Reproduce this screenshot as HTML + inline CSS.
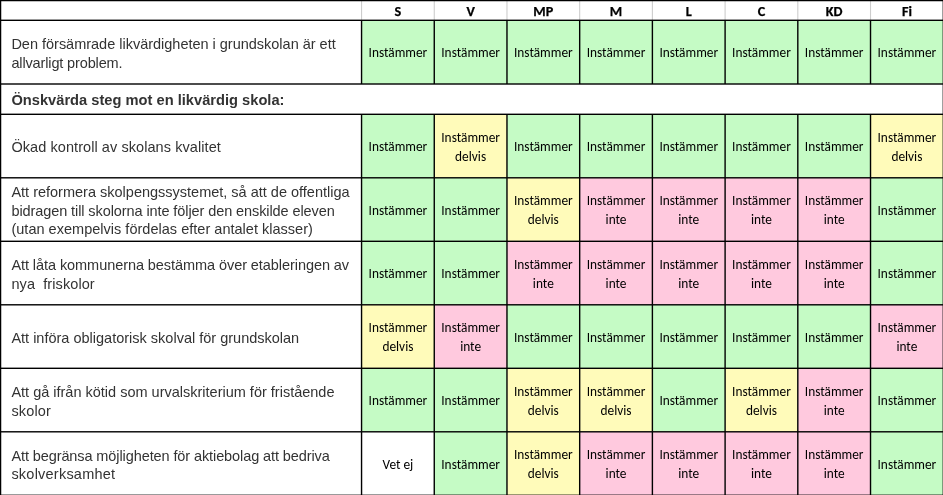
<!DOCTYPE html>
<html lang="sv"><head><meta charset="utf-8"><title>Likvärdig skola</title>
<style>
html,body{margin:0;padding:0;background:#fff}
svg{display:block}
.l{font-family:"Liberation Sans",Arial,Helvetica,sans-serif;font-size:14.5px;fill:#333}
.b{font-weight:bold;font-size:14.67px}
.c{font-family:Carlito,Calibri,"Liberation Sans",sans-serif;font-size:13.33px;fill:#000;text-anchor:middle}
.h{font-family:Carlito,Calibri,"Liberation Sans",sans-serif;font-size:14.2px;font-weight:bold;fill:#000;stroke:#000;stroke-width:.25px;text-anchor:middle}
</style></head><body>

<svg width="943" height="495" viewBox="0 0 943 495">
<rect width="943" height="495" fill="#fff"/>
<g>
<rect x="361.55" y="20.30" width="72.71" height="63.70" fill="#c5fbc5"/>
<rect x="434.26" y="20.30" width="72.71" height="63.70" fill="#c5fbc5"/>
<rect x="506.97" y="20.30" width="72.71" height="63.70" fill="#c5fbc5"/>
<rect x="579.68" y="20.30" width="72.71" height="63.70" fill="#c5fbc5"/>
<rect x="652.39" y="20.30" width="72.71" height="63.70" fill="#c5fbc5"/>
<rect x="725.10" y="20.30" width="72.71" height="63.70" fill="#c5fbc5"/>
<rect x="797.81" y="20.30" width="72.71" height="63.70" fill="#c5fbc5"/>
<rect x="870.52" y="20.30" width="72.71" height="63.70" fill="#c5fbc5"/>
<rect x="361.55" y="114.30" width="72.71" height="63.50" fill="#c5fbc5"/>
<rect x="434.26" y="114.30" width="72.71" height="63.50" fill="#fffbba"/>
<rect x="506.97" y="114.30" width="72.71" height="63.50" fill="#c5fbc5"/>
<rect x="579.68" y="114.30" width="72.71" height="63.50" fill="#c5fbc5"/>
<rect x="652.39" y="114.30" width="72.71" height="63.50" fill="#c5fbc5"/>
<rect x="725.10" y="114.30" width="72.71" height="63.50" fill="#c5fbc5"/>
<rect x="797.81" y="114.30" width="72.71" height="63.50" fill="#c5fbc5"/>
<rect x="870.52" y="114.30" width="72.71" height="63.50" fill="#fffbba"/>
<rect x="361.55" y="177.80" width="72.71" height="63.50" fill="#c5fbc5"/>
<rect x="434.26" y="177.80" width="72.71" height="63.50" fill="#c5fbc5"/>
<rect x="506.97" y="177.80" width="72.71" height="63.50" fill="#fffbba"/>
<rect x="579.68" y="177.80" width="72.71" height="63.50" fill="#ffc9de"/>
<rect x="652.39" y="177.80" width="72.71" height="63.50" fill="#ffc9de"/>
<rect x="725.10" y="177.80" width="72.71" height="63.50" fill="#ffc9de"/>
<rect x="797.81" y="177.80" width="72.71" height="63.50" fill="#ffc9de"/>
<rect x="870.52" y="177.80" width="72.71" height="63.50" fill="#c5fbc5"/>
<rect x="361.55" y="241.30" width="72.71" height="63.50" fill="#c5fbc5"/>
<rect x="434.26" y="241.30" width="72.71" height="63.50" fill="#c5fbc5"/>
<rect x="506.97" y="241.30" width="72.71" height="63.50" fill="#ffc9de"/>
<rect x="579.68" y="241.30" width="72.71" height="63.50" fill="#ffc9de"/>
<rect x="652.39" y="241.30" width="72.71" height="63.50" fill="#ffc9de"/>
<rect x="725.10" y="241.30" width="72.71" height="63.50" fill="#ffc9de"/>
<rect x="797.81" y="241.30" width="72.71" height="63.50" fill="#ffc9de"/>
<rect x="870.52" y="241.30" width="72.71" height="63.50" fill="#c5fbc5"/>
<rect x="361.55" y="304.80" width="72.71" height="63.50" fill="#fffbba"/>
<rect x="434.26" y="304.80" width="72.71" height="63.50" fill="#ffc9de"/>
<rect x="506.97" y="304.80" width="72.71" height="63.50" fill="#c5fbc5"/>
<rect x="579.68" y="304.80" width="72.71" height="63.50" fill="#c5fbc5"/>
<rect x="652.39" y="304.80" width="72.71" height="63.50" fill="#c5fbc5"/>
<rect x="725.10" y="304.80" width="72.71" height="63.50" fill="#c5fbc5"/>
<rect x="797.81" y="304.80" width="72.71" height="63.50" fill="#c5fbc5"/>
<rect x="870.52" y="304.80" width="72.71" height="63.50" fill="#ffc9de"/>
<rect x="361.55" y="368.30" width="72.71" height="63.50" fill="#c5fbc5"/>
<rect x="434.26" y="368.30" width="72.71" height="63.50" fill="#c5fbc5"/>
<rect x="506.97" y="368.30" width="72.71" height="63.50" fill="#fffbba"/>
<rect x="579.68" y="368.30" width="72.71" height="63.50" fill="#fffbba"/>
<rect x="652.39" y="368.30" width="72.71" height="63.50" fill="#c5fbc5"/>
<rect x="725.10" y="368.30" width="72.71" height="63.50" fill="#fffbba"/>
<rect x="797.81" y="368.30" width="72.71" height="63.50" fill="#ffc9de"/>
<rect x="870.52" y="368.30" width="72.71" height="63.50" fill="#c5fbc5"/>
<rect x="434.26" y="431.80" width="72.71" height="63.50" fill="#c5fbc5"/>
<rect x="506.97" y="431.80" width="72.71" height="63.50" fill="#fffbba"/>
<rect x="579.68" y="431.80" width="72.71" height="63.50" fill="#ffc9de"/>
<rect x="652.39" y="431.80" width="72.71" height="63.50" fill="#ffc9de"/>
<rect x="725.10" y="431.80" width="72.71" height="63.50" fill="#ffc9de"/>
<rect x="797.81" y="431.80" width="72.71" height="63.50" fill="#ffc9de"/>
<rect x="870.52" y="431.80" width="72.71" height="63.50" fill="#c5fbc5"/>
</g>
<g fill="#cdcdcd">
<rect x="361.00" y="1" width="1.1" height="19.30"/>
<rect x="433.71" y="1" width="1.1" height="19.30"/>
<rect x="506.42" y="1" width="1.1" height="19.30"/>
<rect x="579.13" y="1" width="1.1" height="19.30"/>
<rect x="651.84" y="1" width="1.1" height="19.30"/>
<rect x="724.55" y="1" width="1.1" height="19.30"/>
<rect x="797.26" y="1" width="1.1" height="19.30"/>
<rect x="869.97" y="1" width="1.1" height="19.30"/>
</g>
<g fill="#000">
<rect x="0" y="0" width="943" height="1.25"/>
<rect x="0" y="0" width="1.25" height="495"/>
<rect x="942.62" y="0" width="1" height="495"/>
<rect x="0" y="19.60" width="943" height="1.40"/>
<rect x="0" y="83.30" width="943" height="1.40"/>
<rect x="0" y="113.60" width="943" height="1.40"/>
<rect x="0" y="177.10" width="943" height="1.40"/>
<rect x="0" y="240.60" width="943" height="1.40"/>
<rect x="0" y="304.10" width="943" height="1.40"/>
<rect x="0" y="367.60" width="943" height="1.40"/>
<rect x="0" y="431.10" width="943" height="1.40"/>
<rect x="0" y="494.60" width="943" height="1.40"/>
<rect x="360.85" y="20.30" width="1.40" height="63.70"/>
<rect x="433.56" y="20.30" width="1.40" height="63.70"/>
<rect x="506.27" y="20.30" width="1.40" height="63.70"/>
<rect x="578.98" y="20.30" width="1.40" height="63.70"/>
<rect x="651.69" y="20.30" width="1.40" height="63.70"/>
<rect x="724.40" y="20.30" width="1.40" height="63.70"/>
<rect x="797.11" y="20.30" width="1.40" height="63.70"/>
<rect x="869.82" y="20.30" width="1.40" height="63.70"/>
<rect x="360.85" y="114.30" width="1.40" height="63.50"/>
<rect x="433.56" y="114.30" width="1.40" height="63.50"/>
<rect x="506.27" y="114.30" width="1.40" height="63.50"/>
<rect x="578.98" y="114.30" width="1.40" height="63.50"/>
<rect x="651.69" y="114.30" width="1.40" height="63.50"/>
<rect x="724.40" y="114.30" width="1.40" height="63.50"/>
<rect x="797.11" y="114.30" width="1.40" height="63.50"/>
<rect x="869.82" y="114.30" width="1.40" height="63.50"/>
<rect x="360.85" y="177.80" width="1.40" height="63.50"/>
<rect x="433.56" y="177.80" width="1.40" height="63.50"/>
<rect x="506.27" y="177.80" width="1.40" height="63.50"/>
<rect x="578.98" y="177.80" width="1.40" height="63.50"/>
<rect x="651.69" y="177.80" width="1.40" height="63.50"/>
<rect x="724.40" y="177.80" width="1.40" height="63.50"/>
<rect x="797.11" y="177.80" width="1.40" height="63.50"/>
<rect x="869.82" y="177.80" width="1.40" height="63.50"/>
<rect x="360.85" y="241.30" width="1.40" height="63.50"/>
<rect x="433.56" y="241.30" width="1.40" height="63.50"/>
<rect x="506.27" y="241.30" width="1.40" height="63.50"/>
<rect x="578.98" y="241.30" width="1.40" height="63.50"/>
<rect x="651.69" y="241.30" width="1.40" height="63.50"/>
<rect x="724.40" y="241.30" width="1.40" height="63.50"/>
<rect x="797.11" y="241.30" width="1.40" height="63.50"/>
<rect x="869.82" y="241.30" width="1.40" height="63.50"/>
<rect x="360.85" y="304.80" width="1.40" height="63.50"/>
<rect x="433.56" y="304.80" width="1.40" height="63.50"/>
<rect x="506.27" y="304.80" width="1.40" height="63.50"/>
<rect x="578.98" y="304.80" width="1.40" height="63.50"/>
<rect x="651.69" y="304.80" width="1.40" height="63.50"/>
<rect x="724.40" y="304.80" width="1.40" height="63.50"/>
<rect x="797.11" y="304.80" width="1.40" height="63.50"/>
<rect x="869.82" y="304.80" width="1.40" height="63.50"/>
<rect x="360.85" y="368.30" width="1.40" height="63.50"/>
<rect x="433.56" y="368.30" width="1.40" height="63.50"/>
<rect x="506.27" y="368.30" width="1.40" height="63.50"/>
<rect x="578.98" y="368.30" width="1.40" height="63.50"/>
<rect x="651.69" y="368.30" width="1.40" height="63.50"/>
<rect x="724.40" y="368.30" width="1.40" height="63.50"/>
<rect x="797.11" y="368.30" width="1.40" height="63.50"/>
<rect x="869.82" y="368.30" width="1.40" height="63.50"/>
<rect x="360.85" y="431.80" width="1.40" height="63.50"/>
<rect x="433.56" y="431.80" width="1.40" height="63.50"/>
<rect x="506.27" y="431.80" width="1.40" height="63.50"/>
<rect x="578.98" y="431.80" width="1.40" height="63.50"/>
<rect x="651.69" y="431.80" width="1.40" height="63.50"/>
<rect x="724.40" y="431.80" width="1.40" height="63.50"/>
<rect x="797.11" y="431.80" width="1.40" height="63.50"/>
<rect x="869.82" y="431.80" width="1.40" height="63.50"/>
</g>
<g class="h">
<text x="397.91" y="15.70">S</text>
<text x="470.62" y="15.70">V</text>
<text x="543.33" y="15.70">MP</text>
<text x="616.04" y="15.70">M</text>
<text x="688.75" y="15.70">L</text>
<text x="761.45" y="15.70">C</text>
<text x="834.16" y="15.70">KD</text>
<text x="906.88" y="15.70">Fi</text>
</g>
<text class="l b" x="11.40" y="104.80" textLength="273.1" lengthAdjust="spacing">Önskvärda steg mot en likvärdig skola:</text>
<g class="l">
<text x="11.40" y="49.20" textLength="324.3" lengthAdjust="spacing">Den försämrade likvärdigheten i grundskolan är ett</text>
<text x="11.40" y="67.70" textLength="111.2" lengthAdjust="spacing">allvarligt problem.</text>
</g>
<g class="c">
<text x="397.91" y="57.15" textLength="58.7" lengthAdjust="spacingAndGlyphs">Instämmer</text>
<text x="470.62" y="57.15" textLength="58.7" lengthAdjust="spacingAndGlyphs">Instämmer</text>
<text x="543.33" y="57.15" textLength="58.7" lengthAdjust="spacingAndGlyphs">Instämmer</text>
<text x="616.04" y="57.15" textLength="58.7" lengthAdjust="spacingAndGlyphs">Instämmer</text>
<text x="688.75" y="57.15" textLength="58.7" lengthAdjust="spacingAndGlyphs">Instämmer</text>
<text x="761.45" y="57.15" textLength="58.7" lengthAdjust="spacingAndGlyphs">Instämmer</text>
<text x="834.16" y="57.15" textLength="58.7" lengthAdjust="spacingAndGlyphs">Instämmer</text>
<text x="906.88" y="57.15" textLength="58.7" lengthAdjust="spacingAndGlyphs">Instämmer</text>
</g>
<g class="l">
<text x="11.40" y="152.35" textLength="209.4" lengthAdjust="spacing">Ökad kontroll av skolans kvalitet</text>
</g>
<g class="c">
<text x="397.91" y="151.05" textLength="58.7" lengthAdjust="spacingAndGlyphs">Instämmer</text>
<text x="470.62" y="141.80" textLength="58.7" lengthAdjust="spacingAndGlyphs">Instämmer</text>
<text x="470.62" y="160.70" textLength="31.0" lengthAdjust="spacingAndGlyphs">delvis</text>
<text x="543.33" y="151.05" textLength="58.7" lengthAdjust="spacingAndGlyphs">Instämmer</text>
<text x="616.04" y="151.05" textLength="58.7" lengthAdjust="spacingAndGlyphs">Instämmer</text>
<text x="688.75" y="151.05" textLength="58.7" lengthAdjust="spacingAndGlyphs">Instämmer</text>
<text x="761.45" y="151.05" textLength="58.7" lengthAdjust="spacingAndGlyphs">Instämmer</text>
<text x="834.16" y="151.05" textLength="58.7" lengthAdjust="spacingAndGlyphs">Instämmer</text>
<text x="906.88" y="141.80" textLength="58.7" lengthAdjust="spacingAndGlyphs">Instämmer</text>
<text x="906.88" y="160.70" textLength="31.0" lengthAdjust="spacingAndGlyphs">delvis</text>
</g>
<g class="l">
<text x="11.40" y="197.35" textLength="338.2" lengthAdjust="spacing">Att reformera skolpengssystemet, så att de offentliga</text>
<text x="11.40" y="215.85" textLength="323.4" lengthAdjust="spacing">bidragen till skolorna inte följer den enskilde eleven</text>
<text x="11.40" y="234.35" textLength="301.5" lengthAdjust="spacing">(utan exempelvis fördelas efter antalet klasser)</text>
</g>
<g class="c">
<text x="397.91" y="214.55" textLength="58.7" lengthAdjust="spacingAndGlyphs">Instämmer</text>
<text x="470.62" y="214.55" textLength="58.7" lengthAdjust="spacingAndGlyphs">Instämmer</text>
<text x="543.33" y="205.30" textLength="58.7" lengthAdjust="spacingAndGlyphs">Instämmer</text>
<text x="543.33" y="224.20" textLength="31.0" lengthAdjust="spacingAndGlyphs">delvis</text>
<text x="616.04" y="205.30" textLength="58.7" lengthAdjust="spacingAndGlyphs">Instämmer</text>
<text x="616.04" y="224.20" textLength="20.9" lengthAdjust="spacingAndGlyphs">inte</text>
<text x="688.75" y="205.30" textLength="58.7" lengthAdjust="spacingAndGlyphs">Instämmer</text>
<text x="688.75" y="224.20" textLength="20.9" lengthAdjust="spacingAndGlyphs">inte</text>
<text x="761.45" y="205.30" textLength="58.7" lengthAdjust="spacingAndGlyphs">Instämmer</text>
<text x="761.45" y="224.20" textLength="20.9" lengthAdjust="spacingAndGlyphs">inte</text>
<text x="834.16" y="205.30" textLength="58.7" lengthAdjust="spacingAndGlyphs">Instämmer</text>
<text x="834.16" y="224.20" textLength="20.9" lengthAdjust="spacingAndGlyphs">inte</text>
<text x="906.88" y="214.55" textLength="58.7" lengthAdjust="spacingAndGlyphs">Instämmer</text>
</g>
<g class="l">
<text x="11.40" y="270.10" textLength="337.7" lengthAdjust="spacing">Att låta kommunerna bestämma över etableringen av</text>
<text x="11.40" y="288.60" textLength="83.3" lengthAdjust="spacing">nya  friskolor</text>
</g>
<g class="c">
<text x="397.91" y="278.05" textLength="58.7" lengthAdjust="spacingAndGlyphs">Instämmer</text>
<text x="470.62" y="278.05" textLength="58.7" lengthAdjust="spacingAndGlyphs">Instämmer</text>
<text x="543.33" y="268.80" textLength="58.7" lengthAdjust="spacingAndGlyphs">Instämmer</text>
<text x="543.33" y="287.70" textLength="20.9" lengthAdjust="spacingAndGlyphs">inte</text>
<text x="616.04" y="268.80" textLength="58.7" lengthAdjust="spacingAndGlyphs">Instämmer</text>
<text x="616.04" y="287.70" textLength="20.9" lengthAdjust="spacingAndGlyphs">inte</text>
<text x="688.75" y="268.80" textLength="58.7" lengthAdjust="spacingAndGlyphs">Instämmer</text>
<text x="688.75" y="287.70" textLength="20.9" lengthAdjust="spacingAndGlyphs">inte</text>
<text x="761.45" y="268.80" textLength="58.7" lengthAdjust="spacingAndGlyphs">Instämmer</text>
<text x="761.45" y="287.70" textLength="20.9" lengthAdjust="spacingAndGlyphs">inte</text>
<text x="834.16" y="268.80" textLength="58.7" lengthAdjust="spacingAndGlyphs">Instämmer</text>
<text x="834.16" y="287.70" textLength="20.9" lengthAdjust="spacingAndGlyphs">inte</text>
<text x="906.88" y="278.05" textLength="58.7" lengthAdjust="spacingAndGlyphs">Instämmer</text>
</g>
<g class="l">
<text x="11.40" y="342.85" textLength="287.8" lengthAdjust="spacing">Att införa obligatorisk skolval för grundskolan</text>
</g>
<g class="c">
<text x="397.91" y="332.30" textLength="58.7" lengthAdjust="spacingAndGlyphs">Instämmer</text>
<text x="397.91" y="351.20" textLength="31.0" lengthAdjust="spacingAndGlyphs">delvis</text>
<text x="470.62" y="332.30" textLength="58.7" lengthAdjust="spacingAndGlyphs">Instämmer</text>
<text x="470.62" y="351.20" textLength="20.9" lengthAdjust="spacingAndGlyphs">inte</text>
<text x="543.33" y="341.55" textLength="58.7" lengthAdjust="spacingAndGlyphs">Instämmer</text>
<text x="616.04" y="341.55" textLength="58.7" lengthAdjust="spacingAndGlyphs">Instämmer</text>
<text x="688.75" y="341.55" textLength="58.7" lengthAdjust="spacingAndGlyphs">Instämmer</text>
<text x="761.45" y="341.55" textLength="58.7" lengthAdjust="spacingAndGlyphs">Instämmer</text>
<text x="834.16" y="341.55" textLength="58.7" lengthAdjust="spacingAndGlyphs">Instämmer</text>
<text x="906.88" y="332.30" textLength="58.7" lengthAdjust="spacingAndGlyphs">Instämmer</text>
<text x="906.88" y="351.20" textLength="20.9" lengthAdjust="spacingAndGlyphs">inte</text>
</g>
<g class="l">
<text x="11.40" y="397.10" textLength="323.1" lengthAdjust="spacing">Att gå ifrån kötid som urvalskriterium för fristående</text>
<text x="11.40" y="415.60" textLength="39.5" lengthAdjust="spacing">skolor</text>
</g>
<g class="c">
<text x="397.91" y="405.05" textLength="58.7" lengthAdjust="spacingAndGlyphs">Instämmer</text>
<text x="470.62" y="405.05" textLength="58.7" lengthAdjust="spacingAndGlyphs">Instämmer</text>
<text x="543.33" y="395.80" textLength="58.7" lengthAdjust="spacingAndGlyphs">Instämmer</text>
<text x="543.33" y="414.70" textLength="31.0" lengthAdjust="spacingAndGlyphs">delvis</text>
<text x="616.04" y="395.80" textLength="58.7" lengthAdjust="spacingAndGlyphs">Instämmer</text>
<text x="616.04" y="414.70" textLength="31.0" lengthAdjust="spacingAndGlyphs">delvis</text>
<text x="688.75" y="405.05" textLength="58.7" lengthAdjust="spacingAndGlyphs">Instämmer</text>
<text x="761.45" y="395.80" textLength="58.7" lengthAdjust="spacingAndGlyphs">Instämmer</text>
<text x="761.45" y="414.70" textLength="31.0" lengthAdjust="spacingAndGlyphs">delvis</text>
<text x="834.16" y="395.80" textLength="58.7" lengthAdjust="spacingAndGlyphs">Instämmer</text>
<text x="834.16" y="414.70" textLength="20.9" lengthAdjust="spacingAndGlyphs">inte</text>
<text x="906.88" y="405.05" textLength="58.7" lengthAdjust="spacingAndGlyphs">Instämmer</text>
</g>
<g class="l">
<text x="11.40" y="460.60" textLength="318.4" lengthAdjust="spacing">Att begränsa möjligheten för aktiebolag att bedriva</text>
<text x="11.40" y="479.10" textLength="103.7" lengthAdjust="spacing">skolverksamhet</text>
</g>
<g class="c">
<text x="397.91" y="468.55" textLength="30.8" lengthAdjust="spacingAndGlyphs">Vet ej</text>
<text x="470.62" y="468.55" textLength="58.7" lengthAdjust="spacingAndGlyphs">Instämmer</text>
<text x="543.33" y="459.30" textLength="58.7" lengthAdjust="spacingAndGlyphs">Instämmer</text>
<text x="543.33" y="478.20" textLength="31.0" lengthAdjust="spacingAndGlyphs">delvis</text>
<text x="616.04" y="459.30" textLength="58.7" lengthAdjust="spacingAndGlyphs">Instämmer</text>
<text x="616.04" y="478.20" textLength="20.9" lengthAdjust="spacingAndGlyphs">inte</text>
<text x="688.75" y="459.30" textLength="58.7" lengthAdjust="spacingAndGlyphs">Instämmer</text>
<text x="688.75" y="478.20" textLength="20.9" lengthAdjust="spacingAndGlyphs">inte</text>
<text x="761.45" y="459.30" textLength="58.7" lengthAdjust="spacingAndGlyphs">Instämmer</text>
<text x="761.45" y="478.20" textLength="20.9" lengthAdjust="spacingAndGlyphs">inte</text>
<text x="834.16" y="459.30" textLength="58.7" lengthAdjust="spacingAndGlyphs">Instämmer</text>
<text x="834.16" y="478.20" textLength="20.9" lengthAdjust="spacingAndGlyphs">inte</text>
<text x="906.88" y="468.55" textLength="58.7" lengthAdjust="spacingAndGlyphs">Instämmer</text>
</g>
</svg>
</body></html>
